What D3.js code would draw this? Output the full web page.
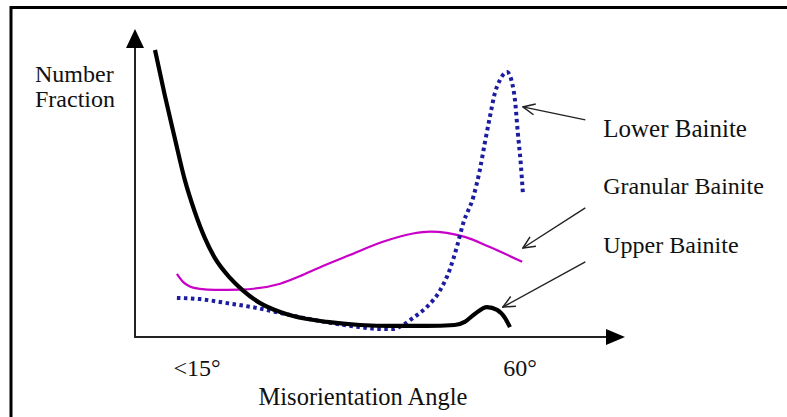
<!DOCTYPE html>
<html>
<head>
<meta charset="utf-8">
<script src="https://cdn.jsdelivr.net/npm/d3@7"></script>
<style>
	html, body { margin: 0; padding: 0; background: #fff; }
	svg text { font-family: "Liberation Serif", "Times New Roman", serif; fill: #111; }
</style>
</head>
<body>
<div id="chart"></div>
<script>
// misorientation angle (deg) vs number fraction (arbitrary units, 0-100)
var upperAngle = [9.15, 10.5, 11.9, 13.3, 14.7, 16.1, 17.5, 19.6, 21.3, 23.8, 26.6, 28.4, 33.1, 37.7, 42.3, 47.0, 50.9, 52.3, 53.7, 55.4, 56.8, 57.9, 58.6];
var upperValue = [93.2, 78.6, 64.6, 51.0, 40.6, 32.1, 25.6, 19.2, 15.3, 11.0, 8.1, 6.8, 4.9, 3.9, 3.6, 3.6, 3.9, 4.9, 7.5, 9.7, 8.8, 6.2, 3.2];

var granularAngle = [12.2, 13.05, 14.0, 15.4, 17.5, 21.0, 26.6, 29.3, 32.1, 36.3, 40.9, 45.1, 47.5, 49.8, 52.3, 55.8, 60.3];
var granularValue = [20.5, 17.9, 16.4, 15.6, 15.3, 15.4, 17.3, 19.7, 22.6, 26.6, 30.9, 33.6, 34.2, 33.8, 32.5, 29.2, 24.4];

var lowerAngle = [12.2, 15.4, 19.2, 23.4, 26.6, 32.1, 37.7, 40.5, 42.3, 43.7, 45.1, 47.0, 48.9, 50.2, 51.2, 52.1, 53.5, 54.4, 55.1, 55.8, 56.5, 57.2, 58.2, 58.9, 59.3, 59.7, 60.1, 60.4];
var lowerValue = [12.7, 12.3, 11.0, 9.4, 7.8, 5.2, 3.2, 2.6, 2.6, 3.9, 6.2, 9.7, 15.3, 21.8, 29.2, 37.0, 45.5, 54.2, 63.0, 71.4, 79.2, 83.4, 86.0, 82.5, 76.9, 66.2, 56.5, 46.8];

var tickAngles = [15, 60];
var tickLabels = ["<15°", "60°"];

// arrow head, arrow tail, label anchor (angle, value)
var noteLabels = ["Lower Bainite", "Granular Bainite", "Upper Bainite"];
var noteHead = [[60.4, 74.7], [60.4, 28.9], [57.6, 9.7]];
var noteTail = [[69.1, 70.5], [69.1, 41.9], [69.1, 24.4]];
var noteText = [[71.6, 64.9], [71.6, 46.4], [71.6, 27.3]];

var width = 787, height = 417;

var svg = d3.select("#chart").append("svg")
	.attr("width", width)
	.attr("height", height);

// frame (right and bottom edges run off the picture)
svg.append("path")
	.attr("d", "M11," + (height + 5) + " V7.5 H" + (width + 5))
	.attr("fill", "none")
	.attr("stroke", "#000")
	.attr("stroke-width", 3);

var x = d3.scaleLinear()
	.domain([15 - 62 / 7.178, 60 + 105 / 7.178])
	.range([135, 625]);
var y = d3.scaleLinear()
	.domain([0, 100])
	.range([337, 29]);

var defs = svg.append("defs");
defs.append("marker")
	.attr("id", "open")
	.attr("viewBox", "0 0 14 14")
	.attr("refX", 13).attr("refY", 7)
	.attr("markerWidth", 14).attr("markerHeight", 14)
	.attr("markerUnits", "userSpaceOnUse")
	.attr("orient", "auto")
	.append("path")
	.attr("d", "M1,1.5 L13,7 L1,12.5")
	.attr("fill", "none")
	.attr("stroke", "#222")
	.attr("stroke-width", 1.5);

// axes with solid arrow heads
var x0 = x.range()[0], x1 = x.range()[1], y0 = y.range()[0], y1 = y.range()[1];
svg.append("line")
	.attr("x1", x0).attr("y1", y0).attr("x2", x0).attr("y2", y1 + 12)
	.attr("stroke", "#222").attr("stroke-width", 2);
svg.append("line")
	.attr("x1", x0 - 1).attr("y1", y0).attr("x2", x1 - 12).attr("y2", y0)
	.attr("stroke", "#222").attr("stroke-width", 2);
svg.append("path")
	.attr("d", "M" + x0 + "," + y1 + " L" + (x0 - 9) + "," + (y1 + 19) + " L" + (x0 + 9) + "," + (y1 + 19) + " Z")
	.attr("fill", "#000");
svg.append("path")
	.attr("d", "M" + x1 + "," + y0 + " L" + (x1 - 19) + "," + (y0 - 8) + " L" + (x1 - 19) + "," + (y0 + 8) + " Z")
	.attr("fill", "#000");

svg.selectAll(".tick")
	.data(tickAngles)
	.join("text")
	.attr("class", "tick")
	.attr("x", d => x(d))
	.attr("y", 376)
	.attr("text-anchor", "middle")
	.style("font-size", "24px")
	.text((d, i) => tickLabels[i]);

svg.append("text")
	.attr("x", 363).attr("y", 405)
	.attr("text-anchor", "middle")
	.style("font-size", "24.5px")
	.text("Misorientation Angle");

var yl = svg.append("text").style("font-size", "24px");
yl.append("tspan").attr("x", 35).attr("y", 82).text("Number");
yl.append("tspan").attr("x", 35).attr("y", 107).text("Fraction");

var line = d3.line()
	.x(d => x(d[0]))
	.y(d => y(d[1]))
	.curve(d3.curveMonotoneX);

svg.append("path")
	.datum(d3.zip(granularAngle, granularValue))
	.attr("d", line)
	.attr("fill", "none")
	.attr("stroke", "#c800c8")
	.attr("stroke-width", 2.2);

svg.append("path")
	.datum(d3.zip(lowerAngle, lowerValue))
	.attr("d", line)
	.attr("fill", "none")
	.attr("stroke", "#1c1ca0")
	.attr("stroke-width", 4)
	.attr("stroke-dasharray", "3.5,3.5");

svg.append("path")
	.datum(d3.zip(upperAngle, upperValue))
	.attr("d", line)
	.attr("fill", "none")
	.attr("stroke", "#000")
	.attr("stroke-width", 4.2);

// callouts
var notes = svg.selectAll(".note")
	.data(noteLabels)
	.join("g")
	.attr("class", "note");

notes.append("line")
	.attr("x1", (d, i) => x(noteTail[i][0]))
	.attr("y1", (d, i) => y(noteTail[i][1]))
	.attr("x2", (d, i) => x(noteHead[i][0]))
	.attr("y2", (d, i) => y(noteHead[i][1]))
	.attr("stroke", "#222")
	.attr("stroke-width", 1.4)
	.attr("marker-end", "url(#open)");

notes.append("text")
	.attr("x", (d, i) => x(noteText[i][0]))
	.attr("y", (d, i) => y(noteText[i][1]))
	.style("font-size", (d, i) => i === 0 ? "25px" : "24px")
	.text(d => d);
</script>
</body>
</html>
